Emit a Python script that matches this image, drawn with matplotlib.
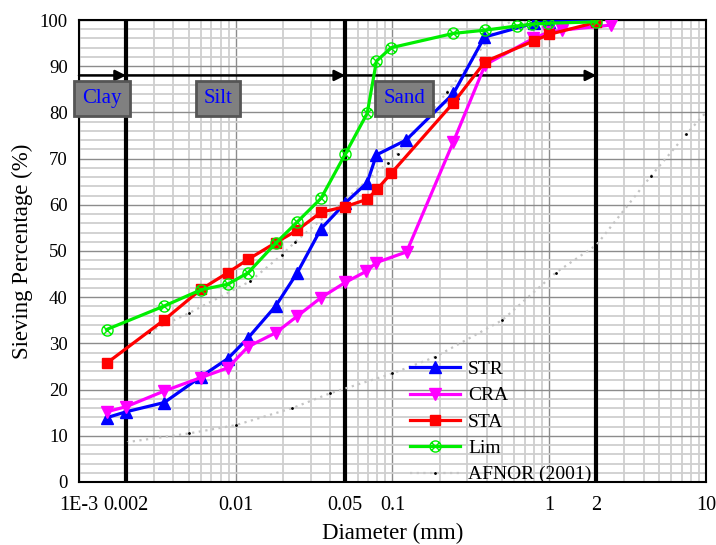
import numpy as np
import matplotlib.pyplot as plt
import matplotlib.path as mpath
from matplotlib.ticker import FixedLocator, NullFormatter

plt.rcParams['font.family'] = ['Liberation Serif', 'DejaVu Serif']

# Дані
str_d = [0.0015, 0.002, 0.0035, 0.006, 0.0089, 0.012, 0.018, 0.0247, 0.035, 0.05,
         0.069, 0.079, 0.122, 0.245, 0.386, 0.8, 1.0, 2.0]
str_p = [13.9, 15.2, 17.2, 22.8, 26.7, 31.2, 38.1, 45.3, 54.8, 60.4,
         64.8, 70.8, 74.0, 84.1, 96.3, 99.3, 99.6, 100.0]

cra_d = [0.0015, 0.002, 0.0035, 0.006, 0.0089, 0.012, 0.018, 0.0247, 0.035, 0.05,
         0.068, 0.079, 0.123, 0.245, 0.39, 0.79, 0.98, 1.2, 2.48]
cra_p = [15.2, 16.3, 19.7, 22.6, 24.7, 29.3, 32.3, 35.9, 39.9, 43.2,
         45.6, 47.5, 49.8, 73.7, 90.3, 96.0, 97.3, 97.8, 98.9]

sta_d = [0.0015, 0.0035, 0.006, 0.0089, 0.012, 0.018, 0.0247, 0.035, 0.05,
         0.069, 0.080, 0.098, 0.245, 0.39, 0.80, 1.0, 2.0]
sta_p = [25.7, 35.1, 41.7, 45.3, 48.2, 51.8, 54.5, 58.4, 59.6,
         61.2, 63.4, 66.8, 82.1, 91.0, 95.5, 96.9, 99.5]

lim_d = [0.0015, 0.0035, 0.006, 0.0089, 0.012, 0.018, 0.0247, 0.035, 0.05,
         0.069, 0.079, 0.098, 0.245, 0.39, 0.62, 0.78, 0.98, 2.0]
lim_p = [33.0, 38.1, 41.6, 42.8, 45.3, 51.7, 56.3, 61.4, 71.0,
         79.8, 91.1, 94.0, 97.1, 97.8, 98.7, 99.1, 99.3, 99.6]

# AFNOR (2001) - нижня та верхня межі
afn_low_d = [0.002, 0.005, 0.01, 0.023, 0.04, 0.1, 0.188, 0.5, 1.1, 2.0, 4.45, 7.49, 10.0]
afn_low_p = [8.6, 10.5, 12.3, 16.0, 19.2, 23.5, 27.1, 35.0, 45.3, 51.3, 66.2, 75.3, 80.0]
afn_up_d = [0.0028, 0.005, 0.0123, 0.0196, 0.024, 0.093, 0.108, 0.224, 0.47, 0.6]
afn_up_p = [32.5, 36.5, 43.4, 49.1, 52.0, 69.0, 71.1, 84.5, 98.3, 100.0]

limits = [0.002, 0.05, 2.0]
zones = ['Clay', 'Silt', 'Sand']
zone_x = [0.0014, 0.0077, 0.119]

xticks = [0.001, 0.002, 0.01, 0.05, 0.1, 1, 2, 10]
xtick_labels = ['1E-3', '0.002', '0.01', '0.05', '0.1', '1', '2', '10']

# маркер "коло з хрестиком"
circ = mpath.Path.unit_circle()
cross = mpath.Path([(-0.7, -0.7), (0.7, 0.7), (-0.7, 0.7), (0.7, -0.7)],
                   [mpath.Path.MOVETO, mpath.Path.LINETO, mpath.Path.MOVETO, mpath.Path.LINETO])
circx = mpath.Path.make_compound_path(circ, cross)

fig = plt.figure(figsize=(7.16, 5.45), dpi=100)
ax = fig.add_axes([0.1103, 0.1156, 0.8757, 0.8477])
ax.set_xscale('log')
ax.set_xlim(0.001, 10)
ax.set_ylim(0, 100)

# сітка
minor_x = [m * 10.0 ** e for e in range(-3, 1) for m in range(2, 10)]
ax.xaxis.set_minor_locator(FixedLocator(minor_x))
ax.xaxis.set_minor_formatter(NullFormatter())
ax.set_yticks(np.arange(0, 101, 10))
ax.set_yticks(np.arange(0, 101, 2), minor=True)
ax.grid(which='minor', color='#cfcfcf', linewidth=1.3)
ax.grid(which='major', color='#8c8c8c', linewidth=1.0)
ax.set_axisbelow(True)
ax.set_xticks(xticks)
ax.set_xticklabels(xtick_labels)
ax.tick_params(which='both', length=0)
ax.tick_params(axis='x', pad=10, labelsize=14.5)
ax.tick_params(axis='y', pad=8, labelsize=13.5)
for s in ax.spines.values():
    s.set_linewidth(1.5)

# межі фракцій
for d in limits:
    ax.axvline(d, color='black', linewidth=3, zorder=2)

# стрілки
starts = [0.001] + limits[:-1]
for a, b in zip(starts, limits):
    ax.annotate('', xy=(b, 88), xytext=(a, 88),
                arrowprops=dict(arrowstyle='-|>', color='black', lw=1.8,
                                mutation_scale=16, shrinkA=0, shrinkB=0), zorder=3)

# AFNOR
ax.plot(afn_low_d, afn_low_p, color='#c4c4c4', linestyle=(0, (1, 2)), linewidth=1.6,
        marker='.', markersize=2, markerfacecolor='black', markeredgecolor='black',
        label='AFNOR (2001)', zorder=2)
ax.plot(afn_up_d, afn_up_p, color='#c4c4c4', linestyle=(0, (1, 2)), linewidth=1.6,
        marker='.', markersize=2, markerfacecolor='black', markeredgecolor='black', zorder=2)

# криві
ax.plot(str_d, str_p, color='blue', linewidth=2.3, marker='^', markersize=8, label='STR', zorder=4)
ax.plot(cra_d, cra_p, color='magenta', linewidth=2.3, marker='v', markersize=8, label='CRA', zorder=4)
ax.plot(sta_d, sta_p, color='red', linewidth=2.3, marker='s', markersize=7, label='STA', zorder=4)
ax.plot(lim_d, lim_p, color='#00ee00', linewidth=2.3, marker=circx, markersize=8,
        markerfacecolor='none', markeredgewidth=1.0, label='Lim', zorder=4)

# підписи зон
for name, xc in zip(zones, zone_x):
    ax.text(xc, 83, name, color='blue', fontsize=15, ha='center', va='center', zorder=6,
            clip_on=False,
            bbox=dict(boxstyle='square,pad=0.38', facecolor='#808080', edgecolor='#555555', linewidth=2))

ax.set_xlabel('Diameter (mm)', fontsize=16.5, labelpad=6)
ax.set_ylabel('Sieving Percentage (%)', fontsize=16.5, labelpad=5)

handles, labels = ax.get_legend_handles_labels()
order = ['STR', 'CRA', 'STA', 'Lim', 'AFNOR (2001)']
hl = dict(zip(labels, handles))
ax.legend([hl[k] for k in order], order, loc='lower left', bbox_to_anchor=(0.515, -0.02),
          frameon=False, fontsize=14, handlelength=2.6, labelspacing=0.45,
          handletextpad=0.4, borderaxespad=0)

fig.savefig('out.png', dpi=100)
